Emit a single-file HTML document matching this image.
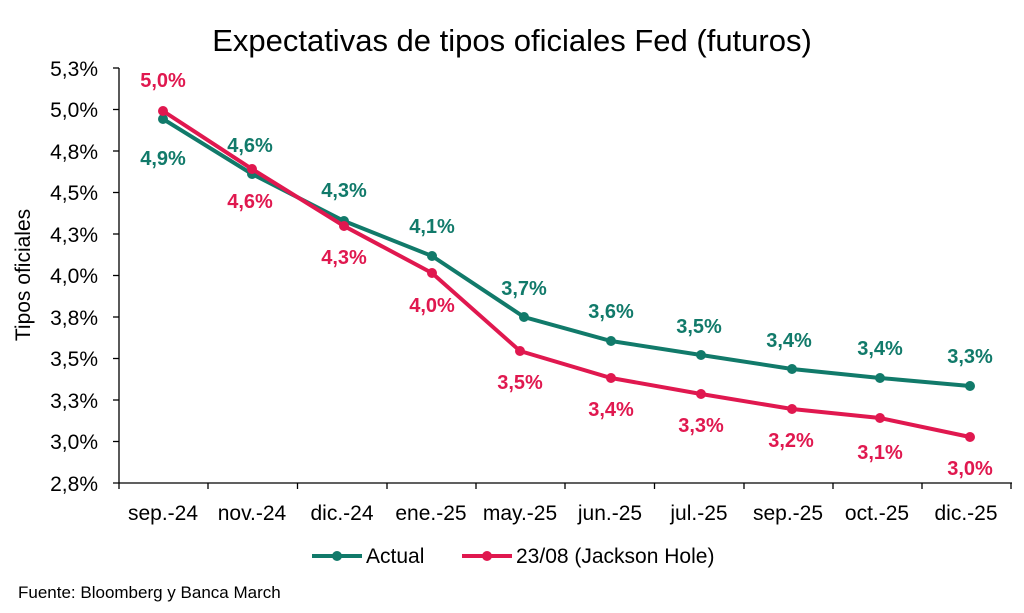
<!DOCTYPE html>
<html><head><meta charset="utf-8"><style>
body{margin:0;background:#fff;}
svg{display:block;font-family:"Liberation Sans",Arial,sans-serif;}
</style></head><body>
<svg width="1024" height="613" viewBox="0 0 1024 613">
<text x="512" y="51" font-size="31" text-anchor="middle" fill="#000">Expectativas de tipos oficiales Fed (futuros)</text>
<g font-size="21" text-anchor="end" fill="#000">
<text x="98" y="76">5,3%</text><text x="98" y="117">5,0%</text><text x="98" y="159">4,8%</text>
<text x="98" y="200">4,5%</text><text x="98" y="242">4,3%</text><text x="98" y="283">4,0%</text>
<text x="98" y="325">3,8%</text><text x="98" y="366">3,5%</text><text x="98" y="408">3,3%</text>
<text x="98" y="449">3,0%</text><text x="98" y="491">2,8%</text>
</g>
<text transform="translate(30,275) rotate(-90)" font-size="21" text-anchor="middle">Tipos oficiales</text>
<g stroke="#000" stroke-width="1.3">
<line x1="119" y1="68" x2="119" y2="483"/>
<line x1="113" y1="483" x2="1012" y2="483"/>
<line x1="113" y1="68" x2="119" y2="68"/><line x1="113" y1="109.5" x2="119" y2="109.5"/><line x1="113" y1="151" x2="119" y2="151"/>
<line x1="113" y1="192.5" x2="119" y2="192.5"/><line x1="113" y1="234" x2="119" y2="234"/><line x1="113" y1="275.5" x2="119" y2="275.5"/>
<line x1="113" y1="317" x2="119" y2="317"/><line x1="113" y1="358.5" x2="119" y2="358.5"/><line x1="113" y1="400" x2="119" y2="400"/>
<line x1="113" y1="441.5" x2="119" y2="441.5"/>
<line x1="119" y1="483" x2="119" y2="489"/><line x1="208" y1="483" x2="208" y2="489"/><line x1="297.5" y1="483" x2="297.5" y2="489"/>
<line x1="387" y1="483" x2="387" y2="489"/><line x1="476" y1="483" x2="476" y2="489"/><line x1="565" y1="483" x2="565" y2="489"/>
<line x1="654.5" y1="483" x2="654.5" y2="489"/><line x1="744" y1="483" x2="744" y2="489"/><line x1="833" y1="483" x2="833" y2="489"/>
<line x1="922" y1="483" x2="922" y2="489"/><line x1="1011" y1="483" x2="1011" y2="489"/>
</g>
<g font-size="21" text-anchor="middle">
<text x="163" y="520">sep.-24</text><text x="252" y="520">nov.-24</text><text x="342" y="520">dic.-24</text>
<text x="431" y="520">ene.-25</text><text x="520" y="520">may.-25</text><text x="610" y="520">jun.-25</text>
<text x="699" y="520">jul.-25</text><text x="788" y="520">sep.-25</text><text x="877" y="520">oct.-25</text>
<text x="966" y="520">dic.-25</text>
</g>
<polyline fill="none" stroke="#117a6a" stroke-width="4" points="163,119 252,174 344,221 432,256 524,317 611,341 701,355 792,369 880,378 970,386"/>
<g fill="#117a6a"><circle cx="163" cy="119" r="5"/><circle cx="252" cy="174" r="5"/><circle cx="344" cy="221" r="5"/><circle cx="432" cy="256" r="5"/><circle cx="524" cy="317" r="5"/><circle cx="611" cy="341" r="5"/><circle cx="701" cy="355" r="5"/><circle cx="792" cy="369" r="5"/><circle cx="880" cy="378" r="5"/><circle cx="970" cy="386" r="5"/></g>
<polyline fill="none" stroke="#e0184f" stroke-width="4" points="163,111 252,169 344,226 432,273 520,351 611,378 701,394 792,409 880,418 970,437"/>
<g fill="#e0184f"><circle cx="163" cy="111" r="5"/><circle cx="252" cy="169" r="5"/><circle cx="344" cy="226" r="5"/><circle cx="432" cy="273" r="5"/><circle cx="520" cy="351" r="5"/><circle cx="611" cy="378" r="5"/><circle cx="701" cy="394" r="5"/><circle cx="792" cy="409" r="5"/><circle cx="880" cy="418" r="5"/><circle cx="970" cy="437" r="5"/></g>
<g font-size="20" font-weight="bold" text-anchor="middle" fill="#117a6a">
<text x="163" y="165">4,9%</text><text x="250" y="152">4,6%</text><text x="344" y="197">4,3%</text>
<text x="432" y="233">4,1%</text><text x="524" y="295">3,7%</text><text x="611" y="318">3,6%</text>
<text x="699" y="333">3,5%</text><text x="789" y="347">3,4%</text><text x="880" y="355">3,4%</text><text x="970" y="363">3,3%</text>
</g>
<g font-size="20" font-weight="bold" text-anchor="middle" fill="#e0184f">
<text x="163" y="87">5,0%</text><text x="250" y="208">4,6%</text><text x="344" y="264">4,3%</text>
<text x="432" y="312">4,0%</text><text x="520" y="389">3,5%</text><text x="611" y="416">3,4%</text>
<text x="701" y="432">3,3%</text><text x="791" y="447">3,2%</text><text x="880" y="459">3,1%</text><text x="970" y="475">3,0%</text>
</g>
<line x1="312" y1="556" x2="362" y2="556" stroke="#117a6a" stroke-width="4"/><circle cx="337" cy="556" r="5" fill="#117a6a"/>
<text x="366" y="563" font-size="21">Actual</text>
<line x1="462" y1="556" x2="512" y2="556" stroke="#e0184f" stroke-width="4"/><circle cx="487" cy="556" r="5" fill="#e0184f"/>
<text x="516" y="563" font-size="21">23/08 (Jackson Hole)</text>
<text x="18" y="598" font-size="17">Fuente: Bloomberg y Banca March</text>
</svg>
</body></html>
